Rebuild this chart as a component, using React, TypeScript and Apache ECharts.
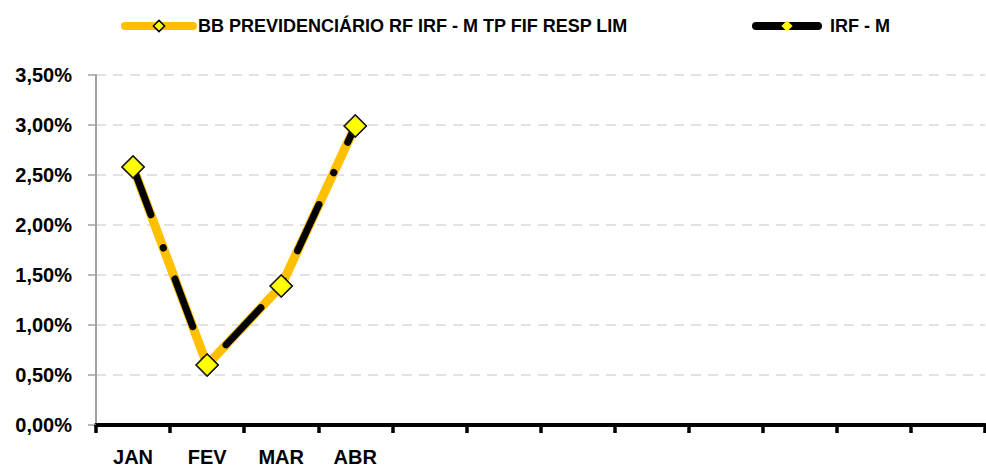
import React, { useEffect, useRef } from "react";
import * as echarts from "echarts";

const months = ["JAN", "FEV", "MAR", "ABR", "MAI", "JUN", "JUL", "AGO", "SET", "OUT", "NOV", "DEZ"];
const tickLabels = ["JAN", "FEV", "MAR", "ABR", "", "", "", "", "", "", "", ""];
const fundName = "BB PREVIDENCIÁRIO RF IRF - M TP FIF RESP LIM";
const indexName = "IRF - M";
const fundValues = [2.58, 0.6, 1.39, 2.99];
const indexValues = [2.58, 0.6, 1.39, 2.99];
const yMin = 0;
const yMax = 3.5;
const yStep = 0.5;

const FONT = "'Liberation Sans', Arial, sans-serif";

export default function App() {
  const ref = useRef<HTMLDivElement>(null);
  useEffect(() => {
    if (!ref.current) return;
    const chart = echarts.init(ref.current, null, { renderer: "svg" });
    const markerStyle = { color: "#FFFF00", borderColor: "#1a1a1a", borderWidth: 1.5 };
    chart.setOption({
      animation: false,
      backgroundColor: "#ffffff",
      textStyle: { fontFamily: FONT },
      legend: [
        {
          left: 121,
          top: 17,
          padding: 0,
          itemWidth: 68,
          itemHeight: 14,
          data: [
            {
              name: fundName,
              lineStyle: { color: "#FFC000", width: 8, type: "solid", cap: "round" },
              itemStyle: { color: "#FFFF00", borderColor: "#000", borderWidth: 1.5 },
            },
          ],
          textStyle: { fontFamily: FONT, fontSize: 18, fontWeight: "bold", color: "#000" },
        },
        {
          left: 752,
          top: 17,
          padding: 0,
          itemWidth: 62,
          itemHeight: 14,
          data: [
            {
              name: indexName,
              lineStyle: { color: "#000", width: 8, type: "solid", cap: "round" },
              itemStyle: { color: "#FFFF00", borderWidth: 0 },
            },
          ],
          textStyle: {
            fontFamily: FONT,
            fontSize: 18,
            fontWeight: "bold",
            color: "#000",
            padding: [0, 0, 0, 7],
          },
        },
      ],
      grid: { left: 96, right: 1, top: 75, bottom: 45, containLabel: false },
      xAxis: {
        type: "category",
        data: months,
        boundaryGap: true,
        axisLine: { show: true, lineStyle: { color: "#000", width: 4 } },
        axisTick: { show: true, length: 8, lineStyle: { color: "#000", width: 3.5 } },
        axisLabel: {
          margin: 22,
          fontFamily: FONT,
          fontSize: 20,
          fontWeight: "bold",
          color: "#000",
          interval: 0,
          formatter: (_v: string, i: number) => tickLabels[i],
        },
        splitLine: { show: false },
      },
      yAxis: {
        type: "value",
        min: yMin,
        max: yMax,
        interval: yStep,
        axisLine: { show: true, lineStyle: { color: "#a0a0a0", width: 2 } },
        axisTick: { show: true, length: 8, lineStyle: { color: "#a0a0a0", width: 1.5 } },
        axisLabel: {
          margin: 24,
          fontFamily: FONT,
          fontSize: 20,
          fontWeight: "bold",
          color: "#000",
          formatter: (v: number) => v.toFixed(2).replace(".", ",") + "%",
        },
        splitLine: {
          show: true,
          lineStyle: { color: "#d9d9d9", width: 1.5, type: [10, 7] },
        },
      },
      series: [
        {
          name: fundName,
          type: "line",
          data: fundValues,
          z: 2,
          symbol: "diamond",
          symbolSize: 22,
          lineStyle: { color: "#FFC000", width: 9, cap: "round", join: "round" },
          itemStyle: markerStyle,
        },
        {
          name: indexName,
          type: "line",
          data: indexValues,
          z: 3,
          symbol: "diamond",
          symbolSize: 22,
          lineStyle: { color: "#000", width: 7, type: [51, 35, 0.5, 33], cap: "round", join: "round" },
          itemStyle: markerStyle,
        },
      ],
    });
    return () => chart.dispose();
  }, []);
  return (
    <div
      ref={ref}
      style={{ position: "fixed", left: 0, top: 0, width: 986, height: 470, background: "#fff" }}
    />
  );
}
